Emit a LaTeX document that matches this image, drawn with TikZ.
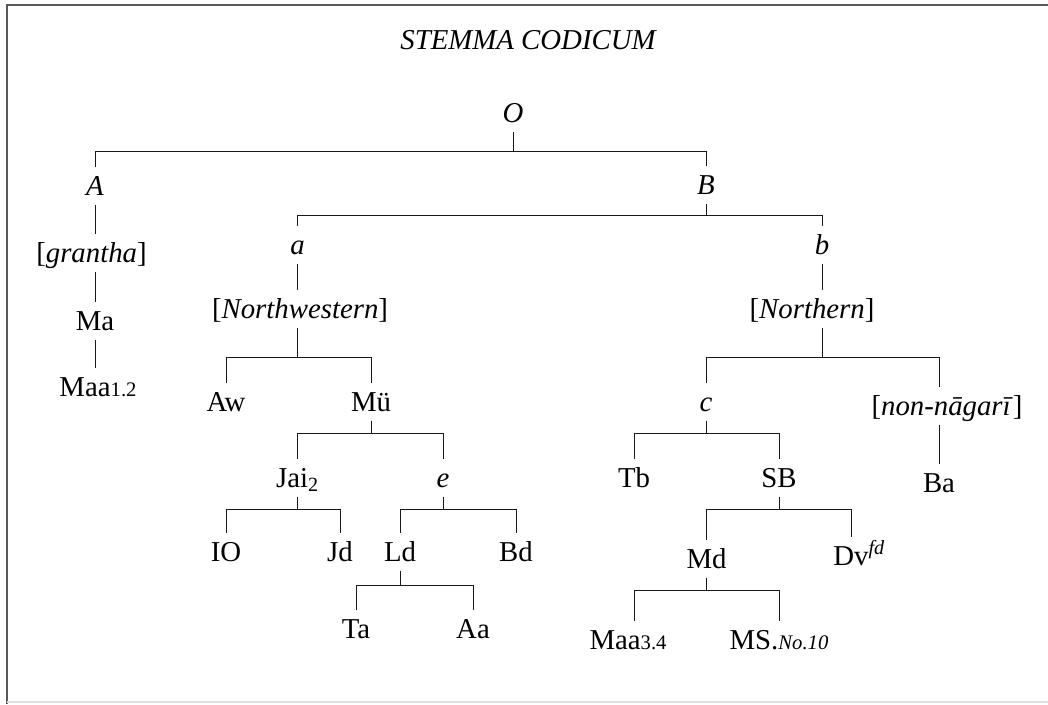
\documentclass[tikz,border=0pt]{standalone}
\usepackage{fontspec}
\setmainfont{Liberation Serif}
\newcommand{\shelfno}[1]{{\fontsize{15.5}{15.5}\selectfont #1}}

\begin{document}
\begin{tikzpicture}
    [
        x=0.75pt, y=-0.75pt,
        witness/.style={inner xsep=0pt, inner ysep=7pt, text height=14pt, text depth=0pt, anchor=base, font=\fontsize{21.6}{25}\selectfont},
        hyparch/.style={witness, font=\fontsize{21.6}{25}\selectfont\itshape},
        stem/.style={line width=0.75pt, color=black!90},
    ]
        \useasboundingbox (0,0) rectangle (1048,704);
        \draw[black!65, line width=1.5pt] (1048,5) -- (6.5,5) -- (6.5,704);
        \draw[black!12, line width=1pt] (6.5,702) -- (1048,702);

        \node[hyparch] (title) at (528,49) {STEMMA CODICUM};

        \node[hyparch] (O) at (513,122) {O};
        \node[hyparch] (A) at (95,195) {A};
        \node[hyparch] (B) at (706,194) {B};
        \node[witness] (grantha) at (91.5,262) {[\textit{grantha}]};
        \node[witness] (Ma) at (95,330) {Ma};
        \node[witness] (Maa12) at (98,396) {Maa\shelfno{1.2}};
        \node[hyparch] (a) at (297.5,254) {a};
        \node[hyparch] (b) at (822,254) {b};
        \node[witness] (NW) at (300,318) {[\textit{Northwestern}]};
        \node[witness] (NO) at (812,318) {[\textit{Northern}]};
        \node[witness] (Aw) at (226,411) {Aw};
        \node[witness] (Mu) at (371,411) {Mü};
        \node[witness] (Jai) at (297.5,487) {Jai\textsubscript{2}};
        \node[hyparch] (e) at (443,487) {e};
        \node[witness] (IO) at (226,561) {IO};
        \node[witness] (Jd) at (340,561) {Jd};
        \node[witness] (Ld) at (400,561) {Ld};
        \node[witness] (Bd) at (516,561) {Bd};
        \node[witness] (Ta) at (356,638) {Ta};
        \node[witness] (Aa) at (473,638) {Aa};
        \node[hyparch] (c) at (706,411) {c};
        \node[witness] (nonnag) at (947,415) {[\textit{non-nāgarī}]};
        \node[witness] (Tb) at (634,487) {Tb};
        \node[witness] (SB) at (779,487) {SB};
        \node[witness] (Ba) at (939,492) {Ba};
        \node[witness] (Md) at (706.5,568) {Md};
        \node[witness] (Dv) at (851,565) {Dv\rlap{\textsuperscript{\itshape fd}}};
        \node[witness] (Maa34) at (628,649) {Maa\shelfno{3.4}};
        \node[witness] (MS) at (779,649) {MS.\shelfno{\itshape No.10}};

        % junctions of the stemma
        \coordinate (jO) at (O |- 0,151);
        \coordinate (jB) at (B |- 0,215.5);
        \coordinate (jNW) at (a |- 0,357);
        \coordinate (jMu) at (Mu |- 0,433);
        \coordinate (jJai) at (Jai |- 0,509);
        \coordinate (je) at (e |- 0,509);
        \coordinate (jLd) at (Ld |- 0,585);
        \coordinate (jNO) at (b |- 0,357);
        \coordinate (jc) at (c |- 0,433);
        \coordinate (jSB) at (SB |- 0,509);
        \coordinate (jMd) at (Md |- 0,590.5);

        \draw[stem] (O.south) -- (jO) -| (A.north);
        \draw[stem] (jO) -| (B.north);
        \draw[stem] (A.south) -- (A.south |- grantha.north);
        \draw[stem] (grantha.south -| A.south) -- (Ma.north);
        \draw[stem] (Ma.south) -- (Ma.south |- Maa12.north);
        \draw[stem] (B.south) -- (jB) -| (a.north);
        \draw[stem] (jB) -| (b.north);
        \draw[stem] (a.south) -- (a.south |- NW.north);
        \draw[stem] (NW.south -| a.south) -- (jNW) -| (Aw.north);
        \draw[stem] (jNW) -| (Mu.north);
        \draw[stem] (Mu.south) -- (jMu) -| (Jai.north);
        \draw[stem] (jMu) -| (e.north);
        \draw[stem] (Jai.south) -- (jJai) -| (IO.north);
        \draw[stem] (jJai) -| (Jd.north);
        \draw[stem] (e.south) -- (je) -| (Ld.north);
        \draw[stem] (je) -| (Bd.north);
        \draw[stem] (Ld.south) -- (jLd) -| (Ta.north);
        \draw[stem] (jLd) -| (Aa.north);
        \draw[stem] (b.south) -- (b.south |- NO.north);
        \draw[stem] (NO.south -| b.south) -- (jNO) -| (c.north);
        \draw[stem] (jNO) -| (nonnag.north -| Ba.north);
        \draw[stem] (nonnag.south -| Ba.north) -- (Ba.north);
        \draw[stem] (c.south) -- (jc) -| (Tb.north);
        \draw[stem] (jc) -| (SB.north);
        \draw[stem] (SB.south) -- (jSB) -| (Md.north);
        \draw[stem] (jSB) -| (Dv.north);
        \draw[stem] (Md.south) -- (jMd) -| (Maa34.north -| Tb.north);
        \draw[stem] (jMd) -| (MS.north);
    \end{tikzpicture}
\end{document}
